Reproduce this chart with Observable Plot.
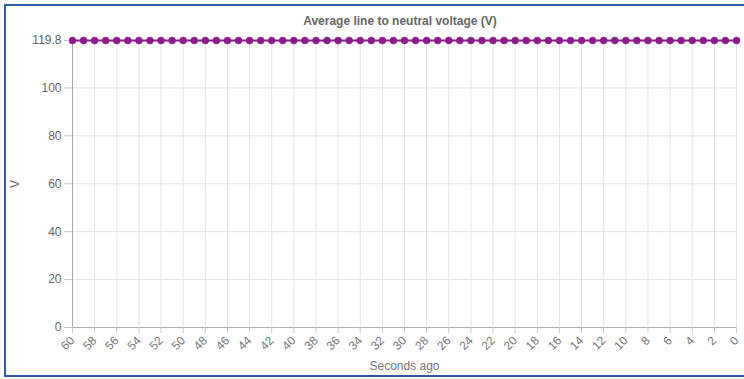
<!DOCTYPE html>
<html>
<head>
<meta charset="utf-8">
<script src="https://cdn.jsdelivr.net/npm/d3@7"></script>
<script src="https://cdn.jsdelivr.net/npm/@observablehq/plot@0.6"></script>
<style>
  html, body { margin: 0; padding: 0; background: #fff; }
  #wrap { position: relative; width: 744px; height: 379px; overflow: hidden; font-family: "Liberation Sans", Arial, sans-serif; }
  #frame { position: absolute; left: 4px; top: 4px; width: 760px; height: 373px; box-sizing: border-box; border: 2px solid #2f5aa8; pointer-events: none; }
  #title { position: absolute; left: 0; width: 800px; top: 14px; text-align: center; font-size: 12px; font-weight: bold; color: #666; }
  #chart { position: absolute; left: 0; top: 0; }
</style>
</head>
<body>
<div id="wrap">
  <div id="chart"></div>
  <div id="title">Average line to neutral voltage (V)</div>
  <div id="frame"></div>
</div>
<script>
const seconds = [60,59,58,57,56,55,54,53,52,51,50,49,48,47,46,45,44,43,42,41,40,39,38,37,36,35,34,33,32,31,30,29,28,27,26,25,24,23,22,21,20,19,18,17,16,15,14,13,12,11,10,9,8,7,6,5,4,3,2,1,0];
const voltage = [119.8,119.8,119.8,119.8,119.8,119.8,119.8,119.8,119.8,119.8,119.8,119.8,119.8,119.8,119.8,119.8,119.8,119.8,119.8,119.8,119.8,119.8,119.8,119.8,119.8,119.8,119.8,119.8,119.8,119.8,119.8,119.8,119.8,119.8,119.8,119.8,119.8,119.8,119.8,119.8,119.8,119.8,119.8,119.8,119.8,119.8,119.8,119.8,119.8,119.8,119.8,119.8,119.8,119.8,119.8,119.8,119.8,119.8,119.8,119.8,119.8];
const xTicks = [60,58,56,54,52,50,48,46,44,42,40,38,36,34,32,30,28,26,24,22,20,18,16,14,12,10,8,6,4,2,0];
const yTicks = [0,20,40,60,80,100,119.8];
const yMin = [0];
const xStart = [60];

const data = seconds.map((s, i) => ({s, v: voltage[i]}));

const chart = Plot.plot({
  width: 744,
  height: 379,
  marginLeft: 72,
  marginRight: 8,
  marginTop: 40,
  marginBottom: 52,
  style: {fontFamily: "Liberation Sans, Arial, sans-serif", fontSize: "12px", color: "#666", background: "transparent"},
  x: {domain: [60, 0]},
  y: {domain: [0, 119.8]},
  marks: [
    Plot.gridX(xTicks, {stroke: "#e4e4e4", strokeOpacity: 1}),
    Plot.gridY(yTicks, {stroke: "#e4e4e4", strokeOpacity: 1}),
    Plot.ruleY(yMin, {stroke: "#b0b0b0"}),
    Plot.ruleX(xStart, {stroke: "#a8a8a8"}),
    Plot.axisY({ticks: yTicks, tickSize: 8, tickPadding: 3, stroke: "#c8c8c8", fill: "#666", tickFormat: d => String(d), label: "V", labelAnchor: "center", labelArrow: "none", labelOffset: 62}),
    Plot.axisX({ticks: xTicks, tickSize: 6, tickPadding: 5, tickRotate: -45, stroke: "#c8c8c8", fill: "#777", label: "Seconds ago", labelAnchor: "center", labelArrow: "none", labelOffset: 42}),
    Plot.line(data, {x: "s", y: "v", stroke: "#8c1c8c", strokeWidth: 2}),
    Plot.dot(data, {x: "s", y: "v", r: 3.5, fill: "#8c1c8c", stroke: "#8c1c8c", strokeWidth: 0.5})
  ]
});
document.getElementById("chart").appendChild(chart);
</script>
</body>
</html>
